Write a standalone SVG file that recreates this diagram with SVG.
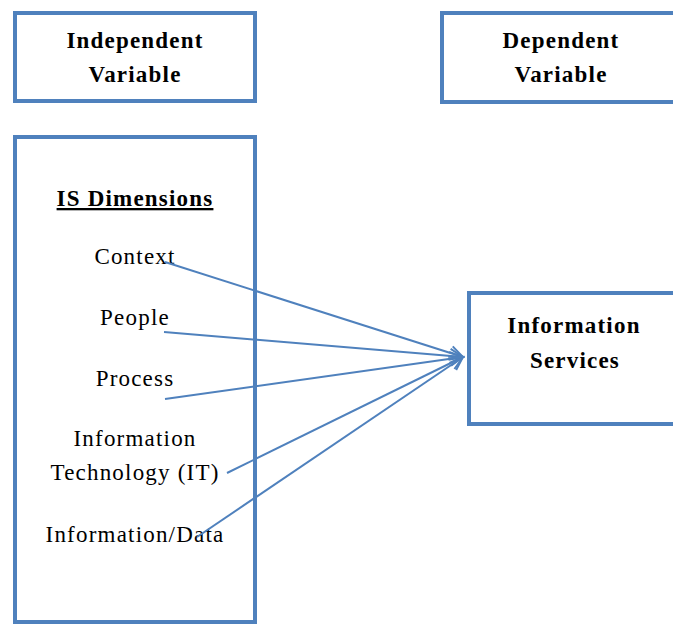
<svg xmlns="http://www.w3.org/2000/svg" width="673" height="627" viewBox="0 0 673 627">
<defs>
<style>
.box{fill:#fff;stroke:#4f81bd;stroke-width:4}
.t{font-family:"Liberation Serif","Times New Roman",serif;font-size:23px;fill:#000;text-anchor:middle;letter-spacing:1.2px}
.b{font-weight:bold}
.c{stroke:#4f81bd;stroke-width:2;fill:none}
</style>
<marker id="arr" markerUnits="userSpaceOnUse" markerWidth="18" markerHeight="18" refX="15" refY="9" orient="auto" overflow="visible">
<path d="M2,2 L15,9 L2,16" fill="none" stroke="#4f81bd" stroke-width="2"/>
</marker>
</defs>
<rect width="673" height="627" fill="#fff"/>
<g id="independent">
<rect class="box" x="15" y="13" width="240" height="88"/>
<text class="t b" x="135" y="48">Independent</text>
<text class="t b" x="135" y="82">Variable</text>
</g>
<g id="dependent">
<rect class="box" x="442" y="13" width="260" height="89"/>
<text class="t b" x="561" y="48">Dependent</text>
<text class="t b" x="561" y="82">Variable</text>
</g>
<g id="is-dimensions">
<rect class="box" x="15" y="137" width="240" height="485"/>
<text class="t b" x="135" y="206" text-decoration="underline">IS Dimensions</text>
<text class="t" x="135" y="264">Context</text>
<text class="t" x="135" y="325">People</text>
<text class="t" x="135" y="386">Process</text>
<text class="t" x="135" y="446">Information</text>
<text class="t" x="135" y="480">Technology (IT)</text>
<text class="t" x="135" y="542">Information/Data</text>
</g>
<g id="information-services">
<rect class="box" x="469" y="293" width="240" height="131"/>
<text class="t b" x="574" y="333">Information</text>
<text class="t b" x="575" y="368">Services</text>
</g>
<g id="connectors">
<line class="c" x1="165" y1="262" x2="463" y2="357" marker-end="url(#arr)"/>
<line class="c" x1="164" y1="332" x2="463" y2="357" marker-end="url(#arr)"/>
<line class="c" x1="165" y1="399" x2="463" y2="357" marker-end="url(#arr)"/>
<line class="c" x1="227" y1="473" x2="463" y2="357" marker-end="url(#arr)"/>
<line class="c" x1="197" y1="537" x2="463" y2="357" marker-end="url(#arr)"/>
</g>
</svg>
